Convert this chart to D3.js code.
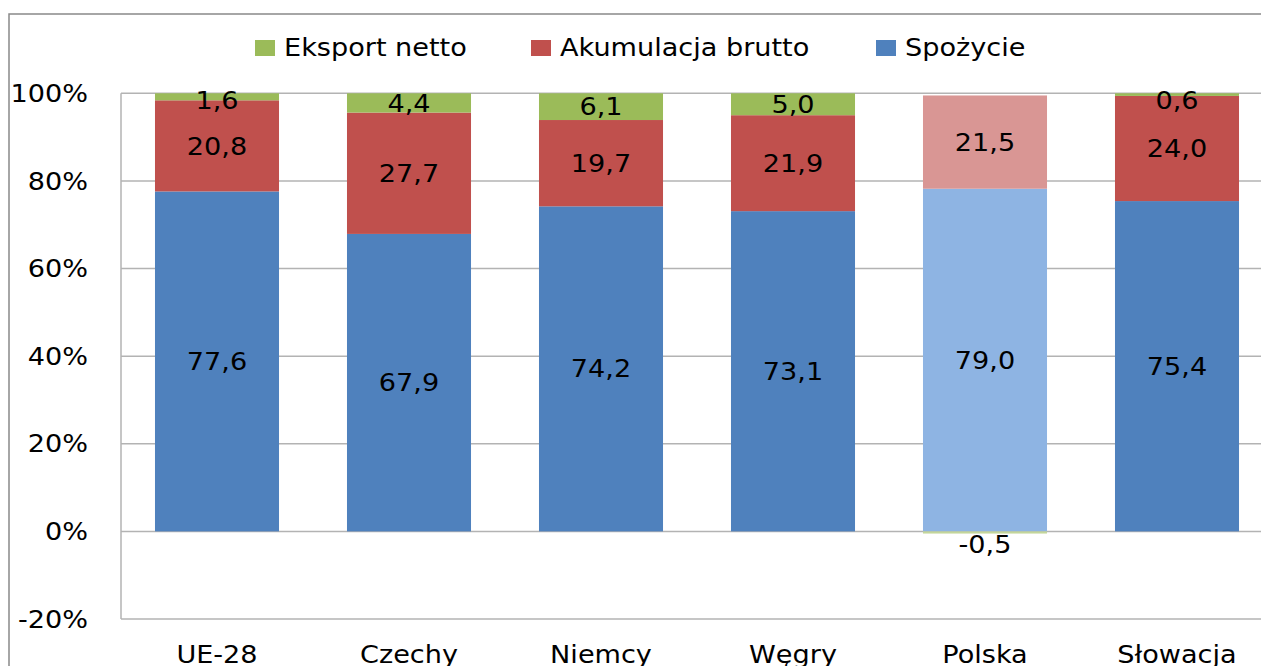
<!DOCTYPE html>
<html>
<head>
<meta charset="utf-8">
<script src="https://cdn.jsdelivr.net/npm/d3@7"></script>
<style>
  html, body { margin: 0; padding: 0; background: #fff; overflow: hidden; }
  text { font-family: "DejaVu Sans", sans-serif; fill: #000; }
</style>
</head>
<body>
<div id="chart"></div>
<script>
// data
const categories = ["UE-28", "Czechy", "Niemcy", "Węgry", "Polska", "Słowacja"];
const spozycie   = [77.6, 67.9, 74.2, 73.1, 79.0, 75.4];
const akumulacja = [20.8, 27.7, 19.7, 21.9, 21.5, 24.0];
const eksport    = [1.6, 4.4, 6.1, 5.0, -0.5, 0.6];
const yTicks     = [-0.2, 0, 0.2, 0.4, 0.6, 0.8, 1.0];
const highlighted = "Polska";

const series = [
    {name: "Spożycie",          values: spozycie,   color: "#4F81BD", light: "#8EB4E3"},
    {name: "Akumulacja brutto", values: akumulacja, color: "#C0504D", light: "#D99694"},
    {name: "Eksport netto",     values: eksport,    color: "#9BBB59", light: "#C3D69B"}
];

const W = 1261, H = 666;
const plot = {left: 121, right: 1273, top: 93.3, bottom: 619};
const SX = 1.13;  // horizontal stretch of the original text
const fmt = v => d3.format(".1f")(v).replace(".", ",").replace("−", "-");

const svg = d3.select("#chart").append("svg")
    .attr("width", W).attr("height", H);

// outer chart border
svg.append("rect")
    .attr("x", 9).attr("y", 14)
    .attr("width", W + 20).attr("height", H + 20)
    .attr("fill", "none").attr("stroke", "#898989").attr("stroke-width", 1.5);

const x = d3.scaleBand()
    .domain(categories)
    .range([plot.left, plot.right])
    .paddingInner(0.354)
    .paddingOuter(0.177);

const y = d3.scaleLinear()
    .domain([-0.2, 1.0])
    .range([plot.bottom, plot.top]);

// gridlines
svg.append("g")
    .selectAll("line")
    .data(yTicks)
    .join("line")
    .attr("x1", plot.left).attr("x2", W + 5)
    .attr("y1", d => y(d)).attr("y2", d => y(d))
    .attr("stroke", "#B3B3B3").attr("stroke-width", 1.5);

svg.append("line")
    .attr("x1", plot.left).attr("x2", plot.left)
    .attr("y1", plot.top).attr("y2", plot.bottom)
    .attr("stroke", "#B3B3B3").attr("stroke-width", 1.5);

// helper for stretched text
function stext(g, tx, ty, str, anchor, dy) {
    g.append("text")
        .attr("transform", `translate(${tx},${ty}) scale(${SX},1)`)
        .attr("text-anchor", anchor)
        .attr("dy", dy || 0)
        .attr("font-size", 24)
        .text(str);
}

// y tick labels
const yAxis = svg.append("g");
yTicks.forEach(t => stext(yAxis, 88, y(t), d3.format(".0%")(t).replace("−", "-"), "end", "0.36em"));

// x labels
const xAxis = svg.append("g");
categories.forEach(c => stext(xAxis, x(c) + x.bandwidth() / 2, 663, c, "middle"));

// 100% stacked segments (Excel normalises by sum of absolute values)
const segs = [];
categories.forEach((c, i) => {
    const total = d3.sum(series, s => Math.abs(s.values[i]));
    let pos = 0, neg = 0;
    series.forEach(s => {
        const v = s.values[i];
        const share = v / total;
        let y0, y1;
        if (v >= 0) { y0 = pos; y1 = pos + share; pos = y1; }
        else { y0 = neg; y1 = neg + share; neg = y1; }
        segs.push({cat: c, value: v, y0, y1,
                   color: c === highlighted ? s.light : s.color});
    });
});

const bars = svg.append("g");
bars.selectAll("rect")
    .data(segs)
    .join("rect")
    .attr("x", d => x(d.cat))
    .attr("width", x.bandwidth())
    .attr("y", d => y(Math.max(d.y0, d.y1)))
    .attr("height", d => Math.abs(y(d.y0) - y(d.y1)))
    .attr("fill", d => d.color);

// value labels
const labels = svg.append("g");
segs.forEach(d => {
    let cy = (y(d.y0) + y(d.y1)) / 2;
    if (d.value < 0) cy = y(0) + 13;
    else cy = Math.max(cy, plot.top + 7);
    stext(labels, x(d.cat) + x.bandwidth() / 2, cy, fmt(d.value), "middle", "0.36em");
});

// legend
const legendItems = [
    {name: "Eksport netto",     color: "#9BBB59", x: 255},
    {name: "Akumulacja brutto", color: "#C0504D", x: 531},
    {name: "Spożycie",          color: "#4F81BD", x: 876}
];
const legend = svg.append("g");
legendItems.forEach(l => {
    legend.append("rect")
        .attr("x", l.x).attr("y", 40)
        .attr("width", 20).attr("height", 16)
        .attr("fill", l.color);
    stext(legend, l.x + 29, 56, l.name, "start");
});
</script>
</body>
</html>
